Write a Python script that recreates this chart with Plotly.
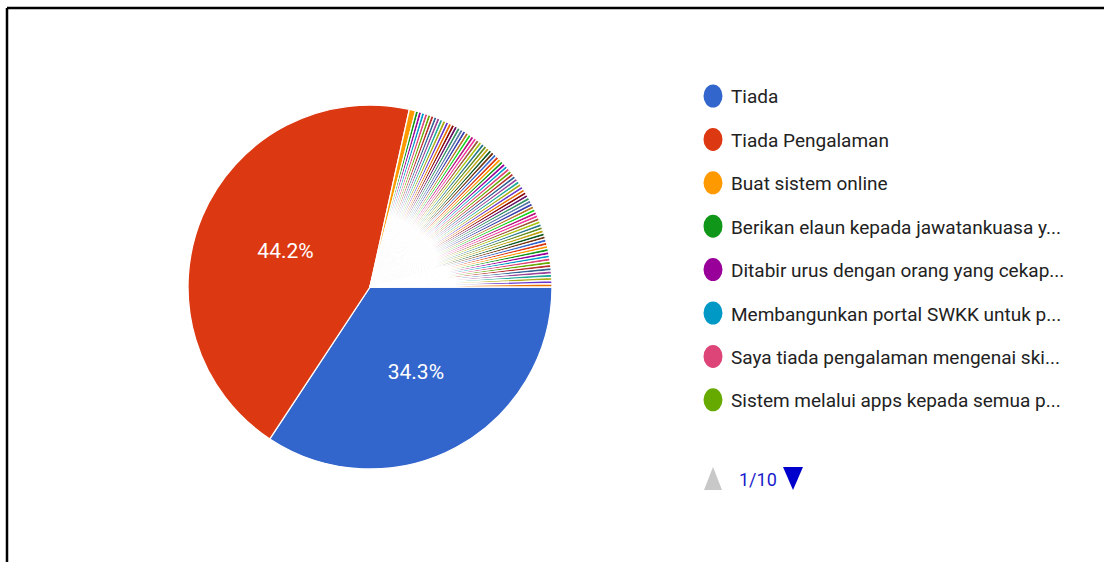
import plotly.graph_objects as go

# legend entries shown on page 1 of 10
main_labels = [
    "Tiada",
    "Tiada Pengalaman",
    "Buat sistem online",
    "Berikan elaun kepada jawatankuasa y...",
    "Ditabir urus dengan orang yang cekap...",
    "Membangunkan portal SWKK untuk p...",
    "Saya tiada pengalaman mengenai ski...",
    "Sistem melalui apps kepada semua p...",
]
main_values = [121, 156, 2, 1, 1, 1, 1, 1]

# remaining single responses (legend pages 2-10), 69 of them
other_values = [
    1, 1, 1, 1, 1, 1, 1, 1, 1, 1, 1, 1, 1, 1, 1, 1, 1, 1, 1, 1, 1, 1, 1,
    1, 1, 1, 1, 1, 1, 1, 1, 1, 1, 1, 1, 1, 1, 1, 1, 1, 1, 1, 1, 1, 1, 1,
    1, 1, 1, 1, 1, 1, 1, 1, 1, 1, 1, 1, 1, 1, 1, 1, 1, 1, 1, 1, 1, 1, 1,
]
other_labels = [f"Jawapan {i + 9}" for i in range(len(other_values))]

labels = main_labels + other_labels
values = main_values + other_values

palette = [
    "#3366cc", "#dc3912", "#ff9900", "#109618", "#990099", "#0099c6",
    "#dd4477", "#66aa00", "#b82e2e", "#316395", "#994499", "#22aa99",
    "#aaaa11", "#6633cc", "#e67300", "#8b0707", "#651067", "#329262",
    "#5574a6", "#3b3eac", "#b77322", "#16d620", "#b91383", "#f4359e",
    "#9c5935", "#a9c413", "#2a778d", "#668d1c", "#bea413", "#0c5922",
    "#743411",
]
colors = [palette[i % len(palette)] for i in range(len(labels))]

total = sum(values)
texts = [f"{v / total * 100:.1f}%" if v / total > 0.05 else "" for v in values]

FONT = "Roboto, Arial, sans-serif"
W, H = 1104, 562
cx, cy, d = 370, 287, 364


def px(x):
    return x / W


def py(y):
    return 1 - y / H


fig = go.Figure(go.Pie(
    labels=labels,
    values=values,
    text=texts,
    textinfo="text",
    textposition="inside",
    insidetextfont=dict(color="white", size=21, family=FONT),
    sort=False,
    direction="clockwise",
    rotation=90,
    marker=dict(colors=colors, line=dict(color="white", width=1.3)),
    showlegend=False,
    hoverinfo="label+percent",
    domain=dict(x=[px(cx - d / 2), px(cx + d / 2)], y=[py(cy + d / 2), py(cy - d / 2)]),
))

shapes = [
    dict(type="line", xref="paper", yref="paper", x0=px(7), x1=1, y0=py(8), y1=py(8),
         line=dict(color="black", width=2.5)),
    dict(type="line", xref="paper", yref="paper", x0=px(7), x1=px(7), y0=0, y1=py(8),
         line=dict(color="black", width=2.5)),
]
annotations = []
row0, step = 96, 43.4
for i, lab in enumerate(main_labels):
    y = row0 + i * step
    shapes.append(dict(
        type="circle", xref="paper", yref="paper",
        x0=px(713 - 9.5), x1=px(713 + 9.5), y0=py(y + 11.5), y1=py(y - 11.5),
        fillcolor=colors[i], line=dict(width=0),
    ))
    annotations.append(dict(
        x=px(729), y=py(y + 1), xref="paper", yref="paper",
        xanchor="left", yanchor="middle", showarrow=False,
        text=lab, font=dict(size=19, color="#222222", family=FONT),
    ))

# pager: up arrow (disabled), page number, down arrow
shapes += [
    dict(type="path", xref="paper", yref="paper",
         path=f"M {px(704)} {py(490)} L {px(722)} {py(490)} L {px(713)} {py(467)} Z",
         fillcolor="#c8c8c8", line=dict(width=0)),
    dict(type="path", xref="paper", yref="paper",
         path=f"M {px(783)} {py(467)} L {px(803)} {py(467)} L {px(793)} {py(490)} Z",
         fillcolor="#0000cc", line=dict(width=0)),
]
annotations.append(dict(
    x=px(737), y=py(479), xref="paper", yref="paper", showarrow=False,
    xanchor="left", yanchor="middle", text="1/10",
    font=dict(size=18, color="#1a1acc", family=FONT),
))

fig.update_layout(
    width=W, height=H,
    margin=dict(l=0, r=0, t=0, b=0),
    paper_bgcolor="white",
    plot_bgcolor="white",
    shapes=shapes,
    annotations=annotations,
)

fig.write_html(
    "out.html",
    config={"displayModeBar": False},
    post_script="document.body.style.margin='0';",
)
